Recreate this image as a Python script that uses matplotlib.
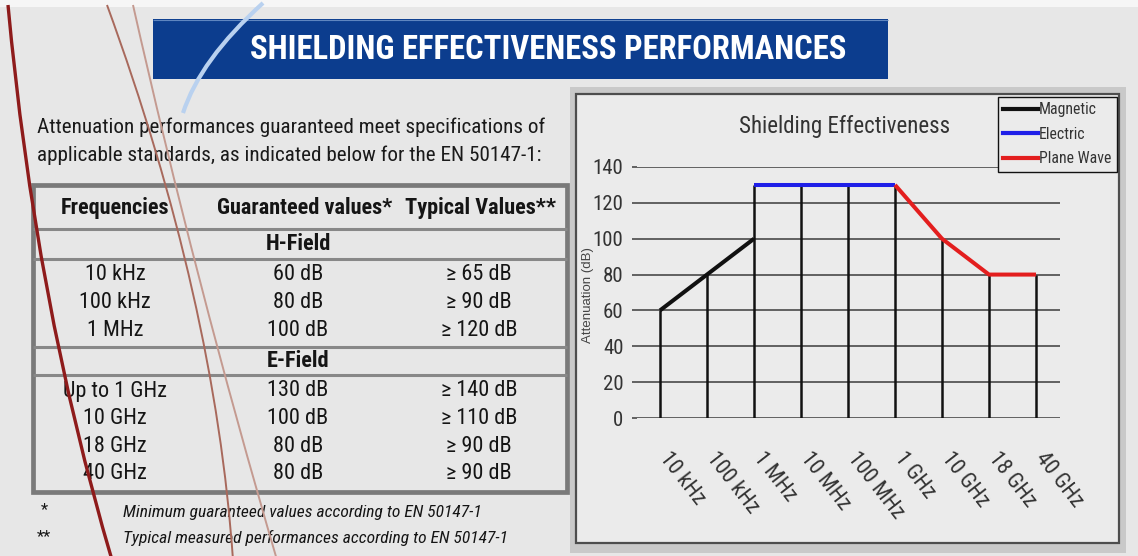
import numpy as np
import matplotlib
matplotlib.use('Agg')
import matplotlib.pyplot as plt
from matplotlib.patches import Rectangle, PathPatch
from matplotlib.path import Path
from matplotlib.lines import Line2D

plt.rcParams['font.family'] = ['Roboto Condensed', 'DejaVu Sans']

# chart series (dB), one value per frequency category
freqs = ['10 kHz', '100 kHz', '1 MHz', '10 MHz', '100 MHz', '1 GHz', '10 GHz', '18 GHz', '40 GHz']
magnetic = [60, 80, 100, np.nan, np.nan, np.nan, np.nan, np.nan, np.nan]
electric = [np.nan, np.nan, 130, 130, 130, 130, np.nan, np.nan, np.nan]
plane_wave = [np.nan, np.nan, np.nan, np.nan, np.nan, 130, 100, 80, 80]
yticks = [0, 20, 40, 60, 80, 100, 120, 140]

# table contents
table_header = ['Frequencies', 'Guaranteed values*', 'Typical Values**']
h_freq = ['10 kHz', '100 kHz', '1 MHz']
h_guaranteed = [60, 80, 100]
h_typical = [65, 90, 120]
e_freq = ['Up to 1 GHz', '10 GHz', '18 GHz', '40 GHz']
e_guaranteed = [130, 100, 80, 80]
e_typical = [140, 110, 90, 90]

W, H = 1138, 556
fig = plt.figure(figsize=(W / 100, H / 100), dpi=100, facecolor='#e7e7e7')

# page layer in pixel coordinates
page = fig.add_axes([0, 0, 1, 1])
page.set_xlim(0, W)
page.set_ylim(H, 0)
page.axis('off')

page.add_patch(Rectangle((0, 0), W, 7, fc='#f6f6f6', ec='none'))

# title banner
page.add_patch(Rectangle((153, 19), 735, 60, fc='#0c3d8e', ec='none', zorder=1))
page.hlines(19.5, 153, 888, color='#5f86c0', lw=0.8, zorder=1.5)
page.text(548, 50, 'SHIELDING EFFECTIVENESS PERFORMANCES', color='white',
          fontsize=23.5, fontweight='bold', ha='center', va='center', zorder=6)

# swoosh across the banner
swoosh = Path([(263, 3), (200, 60), (183, 113)], [Path.MOVETO, Path.CURVE3, Path.CURVE3])
page.add_artist(PathPatch(swoosh, fc='none', ec='#b9d1ef', lw=3.0, zorder=5))

# intro text
page.text(37, 127, 'Attenuation performances guaranteed meet specifications of',
          fontsize=15.2, color='#1a1a1a', va='center')
page.text(37, 155, 'applicable standards, as indicated below for the EN 50147-1:',
          fontsize=15.2, color='#1a1a1a', va='center')

# table frame and row separators
page.add_patch(Rectangle((33, 185), 534, 307, fc='none', ec='#7a7a7a', lw=3.4))
page.hlines([229, 259, 347, 375], 33, 567, color='#888888', lw=2.2)

col_x = [115, 298, 479]
head_x = [115, 305, 481]
tc = '#151515'
fs = 16
for x, t in zip(head_x, table_header):
    page.text(x, 208, t, fontsize=fs, fontweight='bold', ha='center', va='center', color=tc)
page.text(298, 244, 'H-Field', fontsize=fs, fontweight='bold', ha='center', va='center', color=tc)
page.text(298, 361, 'E-Field', fontsize=fs, fontweight='bold', ha='center', va='center', color=tc)

for i, (f, g, t) in enumerate(zip(h_freq, h_guaranteed, h_typical)):
    y = 274 + 28 * i
    page.text(col_x[0], y, f, fontsize=fs, ha='center', va='center', color=tc)
    page.text(col_x[1], y, f'{g} dB', fontsize=fs, ha='center', va='center', color=tc)
    page.text(col_x[2], y, f'\u2265 {t} dB', fontsize=fs, ha='center', va='center', color=tc)
for i, (f, g, t) in enumerate(zip(e_freq, e_guaranteed, e_typical)):
    y = 391 + 27.5 * i
    page.text(col_x[0], y, f, fontsize=fs, ha='center', va='center', color=tc)
    page.text(col_x[1], y, f'{g} dB', fontsize=fs, ha='center', va='center', color=tc)
    page.text(col_x[2], y, f'\u2265 {t} dB', fontsize=fs, ha='center', va='center', color=tc)

# footnotes
page.text(44, 510, '*', fontsize=12, ha='center', va='center', color=tc)
page.text(44, 537, '**', fontsize=12, ha='center', va='center', color=tc)
page.text(123, 513, 'Minimum guaranteed values according to EN 50147-1',
          fontsize=12.6, style='italic', va='center', color=tc)
page.text(123, 538, 'Typical measured performances according to EN 50147-1',
          fontsize=12.6, style='italic', va='center', color=tc)

# decorative strokes on the left
for pts, col, lw in [([(8, 5), (35, 300), (112, 560)], '#8e1b1b', 2.4),
                     ([(107, 5), (215, 300), (233, 560)], '#a8695c', 1.4),
                     ([(133, 5), (195, 280), (277, 560)], '#c49a90', 1.4)]:
    p = Path(pts, [Path.MOVETO, Path.CURVE3, Path.CURVE3])
    page.add_patch(PathPatch(p, fc='none', ec=col, lw=lw, zorder=5))

# chart panel
page.add_patch(Rectangle((570, 87), 556, 466, fc='#c9c9c9', ec='none'))
page.add_patch(Rectangle((576, 94), 543, 449, fc='#ebebeb', ec='#4d4d4d', lw=1.6))
page.text(845, 127, 'Shielding Effectiveness', fontsize=16.5, color='#333333',
          ha='center', va='center')
page.text(588, 295, 'Attenuation (dB)', rotation=90, fontsize=9.5, color='#444444',
          ha='center', va='center', family=['Liberation Sans', 'DejaVu Sans'])

ax = fig.add_axes([636.5 / W, (H - 418) / H, 423 / W, 251 / H])
ax.patch.set_visible(False)
x = np.arange(len(freqs))
ax.set_xlim(-0.5, len(freqs) - 0.5)
ax.set_ylim(0, 140)
ax.set_yticks(yticks)
ax.set_xticks([])
for s in ax.spines.values():
    s.set_visible(False)
ax.grid(axis='y', color='#3c3c3c', lw=1.1)
ax.set_axisbelow(True)
ax.tick_params(axis='y', length=3.3, width=1.1, color='#3c3c3c', pad=6,
               labelsize=15, labelcolor='#333333')

# drop lines from each point down to the axis
top = np.nanmax(np.vstack([magnetic, electric, plane_wave]), axis=0)
ax.vlines(x, 0, top, color='#111111', lw=1.8, zorder=2)

ax.plot(x, magnetic, color='#111111', lw=2.9, zorder=3, solid_capstyle='butt')
ax.plot(x, electric, color='#1f1fe8', lw=2.9, zorder=3, solid_capstyle='butt')
ax.plot(x, plane_wave, color='#e31e1e', lw=2.9, zorder=3, solid_capstyle='butt')

for i, f in enumerate(freqs):
    ax.annotate(f, xy=(i, 0), xytext=(8, -22), textcoords='offset points',
                rotation=-52, rotation_mode='anchor', ha='left', va='top',
                fontsize=16, color='#333333')

handles = [Line2D([], [], color='#111111', lw=3),
           Line2D([], [], color='#1f1fe8', lw=3),
           Line2D([], [], color='#e31e1e', lw=3)]
leg = ax.legend(handles, ['Magnetic', 'Electric', 'Plane Wave'], loc='upper right',
                bbox_to_anchor=(1117 / W, 1 - 97 / H), bbox_transform=fig.transFigure,
                fancybox=False, edgecolor='#111111', facecolor='#ebebeb', framealpha=1,
                fontsize=11.3, handlelength=2.2, handletextpad=0.1, labelspacing=0.6,
                borderpad=0.35, borderaxespad=0)
leg.get_frame().set_linewidth(1.0)
for t in leg.get_texts():
    t.set_color('#333333')

fig.savefig('out.png', dpi=100, facecolor=fig.get_facecolor())
